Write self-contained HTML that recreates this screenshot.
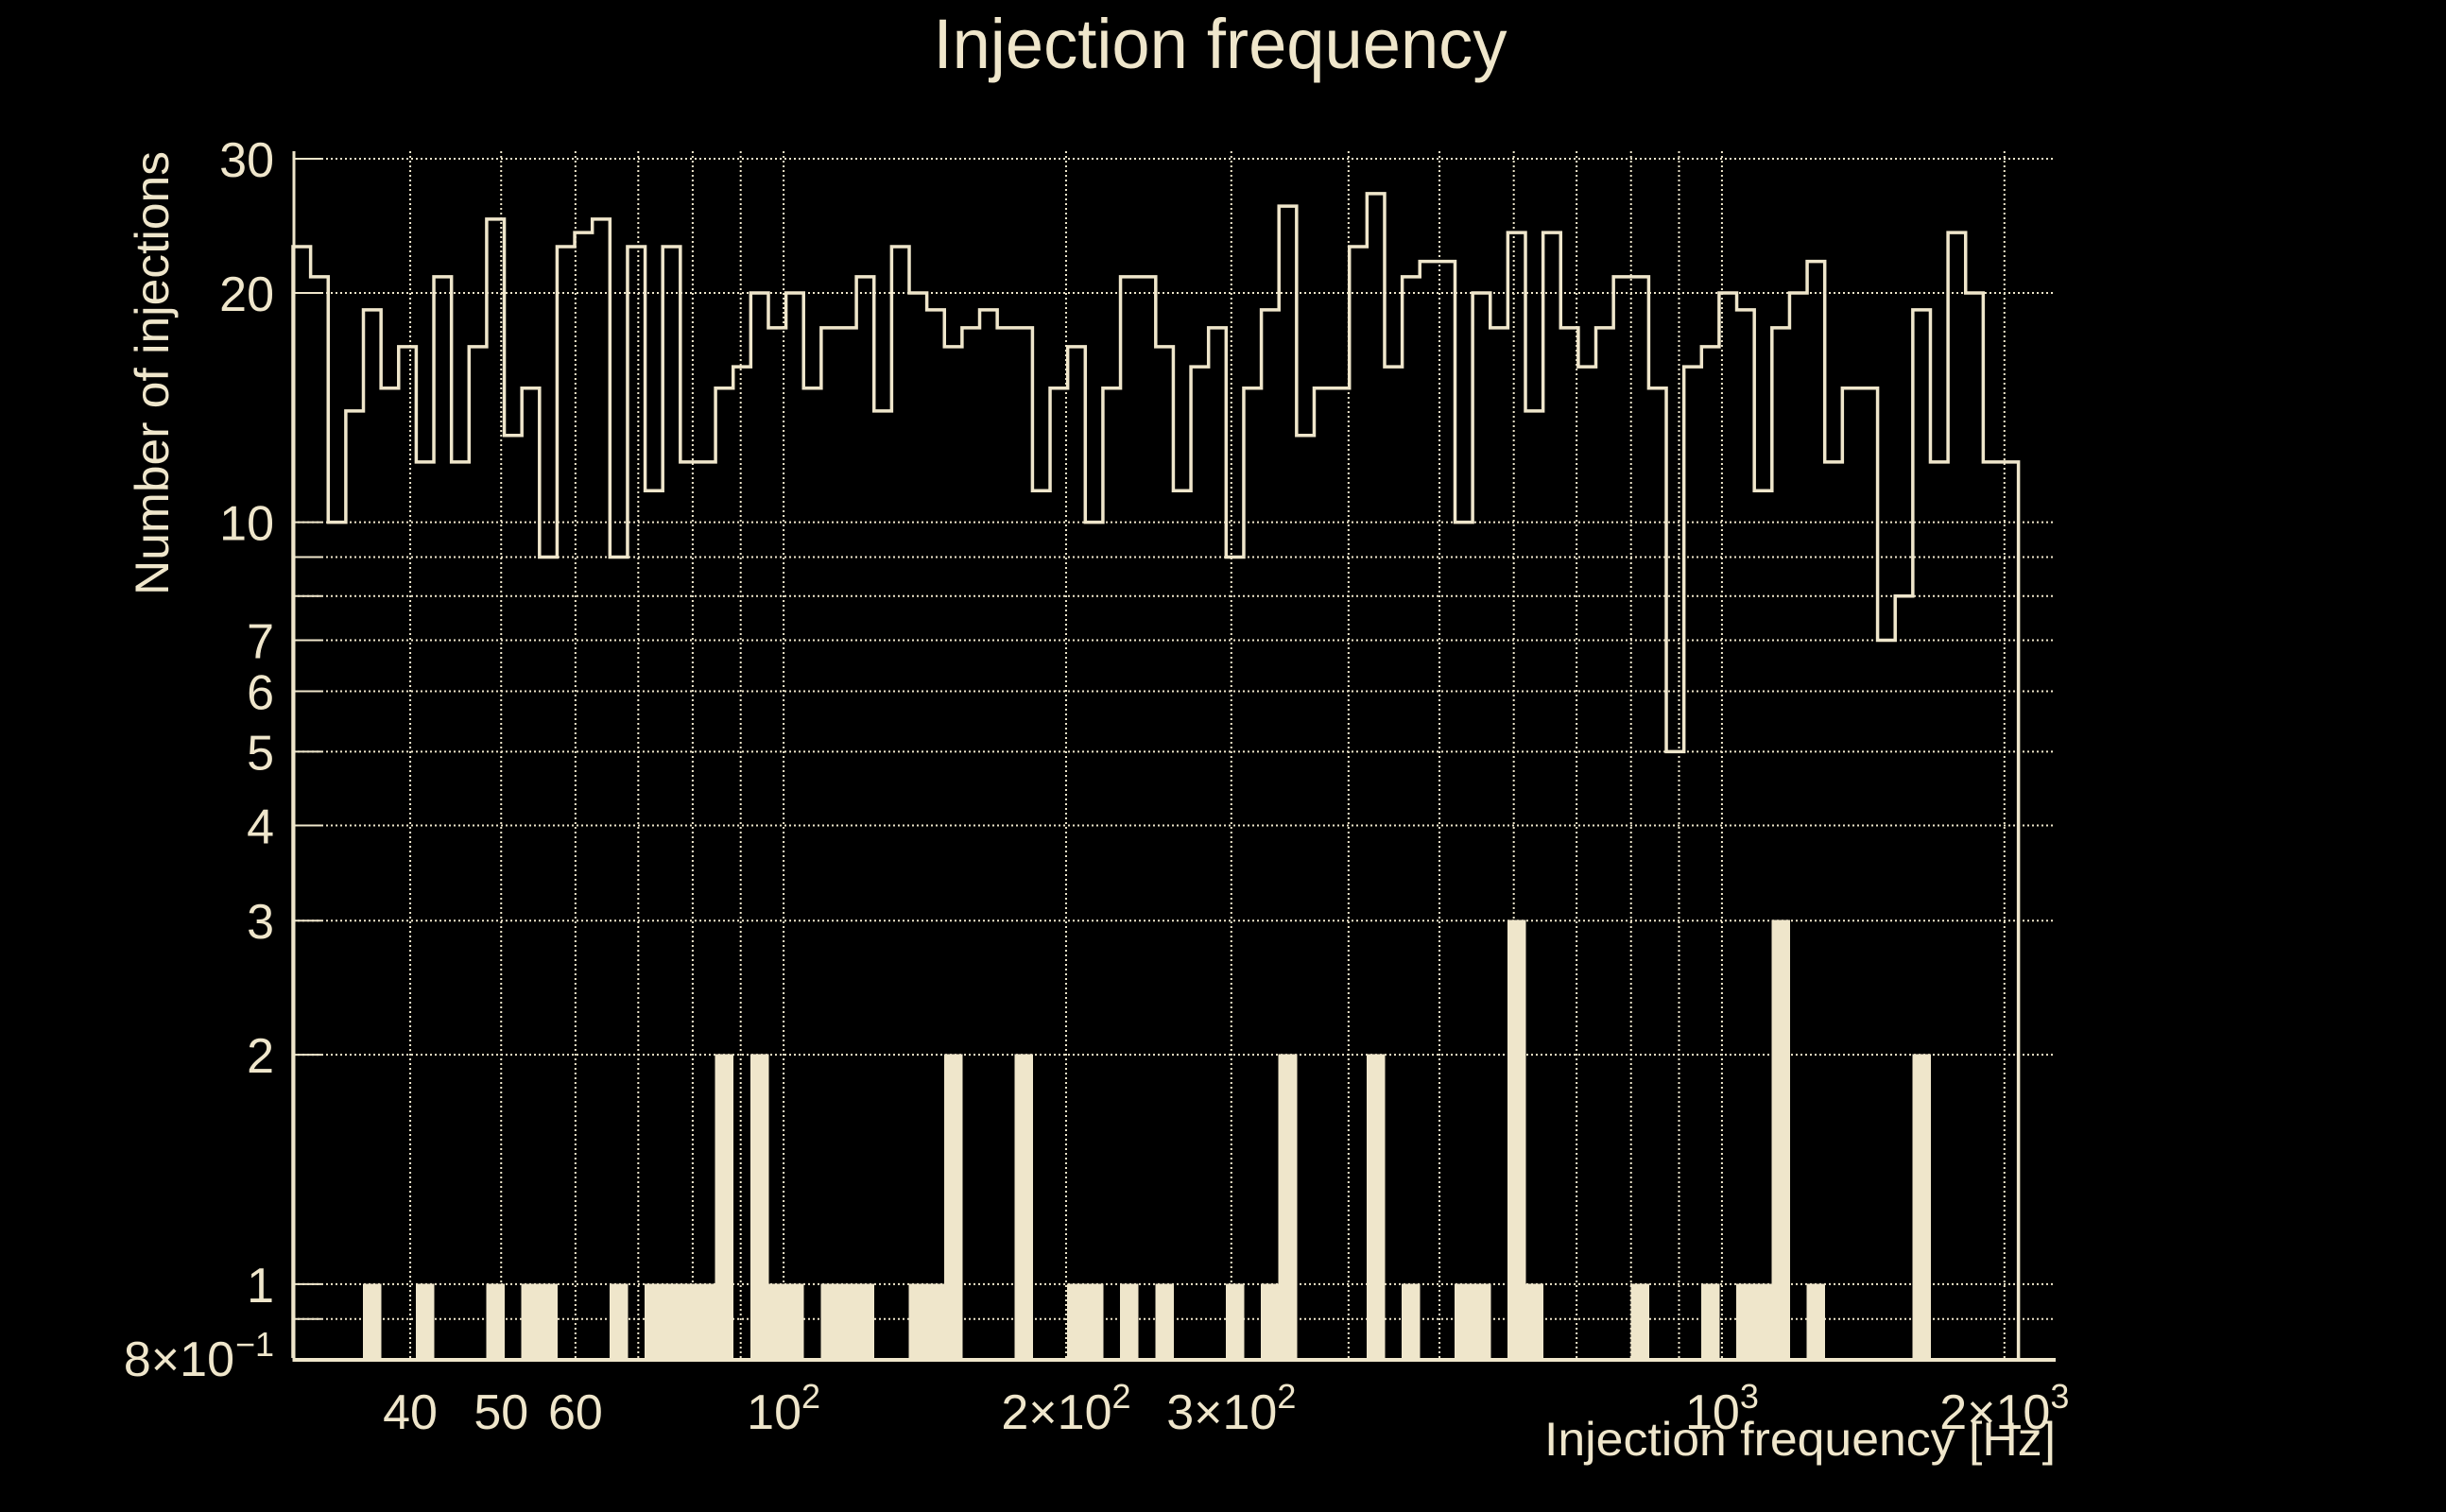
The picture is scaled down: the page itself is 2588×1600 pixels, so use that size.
<!DOCTYPE html>
<html>
<head>
<meta charset="utf-8">
<style>
  html, body { margin:0; padding:0; background:#000; }
  body { width:2588px; height:1600px; overflow:hidden; }
  svg { display:block; }
  text { font-family: "Liberation Sans", sans-serif; fill:#efe6cb; }
</style>
</head>
<body>
<svg id="chart" width="2588" height="1600" viewBox="0 0 2588 1600">
  <rect x="0" y="0" width="2588" height="1600" fill="#000"/>
  <g id="grid"></g>
  <g id="bars"></g>
  <g id="line"></g>
  <g id="axes"></g>
  <g id="labels"></g>
  <text x="1291" y="72" font-size="74" text-anchor="middle" textLength="607" lengthAdjust="spacingAndGlyphs">Injection frequency</text>
  <text x="0" y="0" font-size="50" text-anchor="middle" transform="translate(178,395) rotate(-90)" textLength="470" lengthAdjust="spacingAndGlyphs">Number of injections</text>
  <text x="2175" y="1540" font-size="50" text-anchor="end" textLength="541" lengthAdjust="spacingAndGlyphs">Injection frequency [Hz]</text>
</svg>
<script>
// ---- data ----
const binCount = 98;
const freqMin = 30;
const freqMax = 2070;
const allCounts = [23,21,10,14,19,15,17,12,21,12,17,25,13,15,9,23,24,25,9,23,11,23,12,12,15,16,
  20,18,20,15,18,18,21,14,23,20,19,17,18,19,18,18,11,15,17,10,15,21,21,17,
  11,16,18,9,15,19,26,13,15,15,23,27,16,21,22,22,10,20,18,24,14,24,18,16,18,
  21,21,15,5,16,17,20,19,11,18,20,22,12,15,15,7,8,19,12,24,20,12,12];
const foundCounts = [0,0,0,0,1,0,0,1,0,0,0,1,0,1,1,0,0,0,1,0,1,1,1,1,2,0,2,1,1,0,
  1,1,1,0,0,1,1,2,0,0,0,2,0,0,1,1,0,1,0,1,0,0,0,1,0,1,2,0,0,0,
  0,2,0,1,0,0,1,1,0,3,1,0,0,0,0,0,1,0,0,0,1,0,1,1,3,0,1,0,0,0,
  0,0,2,0,0,0,0,0];
const yTickValues = [0.8,1,2,3,4,5,6,7,10,20,30];
const yTickLabels = ["8\u00d710","1","2","3","4","5","6","7","10","20","30"];
const yGridValues = [0.9,1,2,3,4,5,6,7,8,9,10,20,30];
const xGridValues = [40,50,60,70,80,90,100,200,300,400,500,600,700,800,900,1000,2000];
const xTickValues = [40,50,60,100,200,300,1000,2000];
const xTickMantissa = ["40","50","60","","2\u00d7","3\u00d7","","2\u00d7"];
const xTickExponent = ["","","","2","2","2","3","3"];

// ---- axis functions ----
const X0 = 310, X1 = 2175, Y0 = 1437, Y1 = 168;
const xMin = 30, xMax = 2268, yMin = 0.8, yMax = 30;
function xs(f){ return X0 + (Math.log10(f) - Math.log10(xMin)) / (Math.log10(xMax) - Math.log10(xMin)) * (X1 - X0); }
function ys(v){ return Y0 - (Math.log10(v) - Math.log10(yMin)) / (Math.log10(yMax) - Math.log10(yMin)) * (Y0 - Y1); }
function edge(i){ return freqMin * Math.pow(freqMax / freqMin, i / binCount); }

const NS = "http://www.w3.org/2000/svg";
const C = "#efe6cb";
function mk(tag, attrs, parent){
  const el = document.createElementNS(NS, tag);
  for (const k in attrs) el.setAttribute(k, attrs[k]);
  parent.appendChild(el);
  return el;
}
const grid = document.getElementById('grid');
const bars = document.getElementById('bars');
const line = document.getElementById('line');
const axes = document.getElementById('axes');
const labels = document.getElementById('labels');

// grid
yGridValues.forEach(v => {
  const g = mk('line', {x1:X0, x2:X1, y1:ys(v), y2:ys(v), stroke:C, 'stroke-width':2, 'stroke-dasharray':'2 3'}, grid);
  
  
});
xGridValues.forEach(f => {
  const g = mk('line', {x1:xs(f), x2:xs(f), y1:160, y2:Y0, stroke:C, 'stroke-width':2, 'stroke-dasharray':'2 3'}, grid);
  
  
});

// filled bars
foundCounts.forEach((v, i) => {
  if (v <= 0) return;
  const xa = xs(edge(i)), xb = xs(edge(i + 1));
  const r = mk('rect', {x:xa, y:ys(v), width:xb - xa, height:Y0 - ys(v), fill:C, stroke:C, 'stroke-width':1, 'shape-rendering':'crispEdges'}, bars);
  
  
});

// step outline
let d = 'M' + xs(edge(0)) + ' ' + Y0;
allCounts.forEach((v, i) => {
  d += ' L' + xs(edge(i)) + ' ' + ys(v) + ' L' + xs(edge(i + 1)) + ' ' + ys(v);
});
d += ' L' + xs(edge(binCount)) + ' ' + Y0;
const p = mk('path', {d:d, fill:'none', stroke:C, 'stroke-width':3.5, 'stroke-linejoin':'miter'}, line);



// axes
const ax = mk('line', {x1:X0, x2:X1, y1:Y0 + 2, y2:Y0 + 2, stroke:C, 'stroke-width':4}, axes);


const ay = mk('line', {x1:X0 + 1, x2:X0 + 1, y1:160, y2:Y0 + 4, stroke:C, 'stroke-width':3}, axes);


yGridValues.forEach(v => {
  const t = mk('line', {x1:X0, x2:X0 + 30, y1:ys(v), y2:ys(v), stroke:C, 'stroke-width':2}, axes);
  
  
});

// y tick labels
yTickValues.forEach((v, i) => {
  const t = mk('text', {x:290, y:ys(v) + 19, 'font-size':52, 'text-anchor':'end'}, labels);
  
  
  if (v === 0.8) {
    t.setAttribute('x', 248);
    t.textContent = yTickLabels[i];
    const s = mk('text', {x:290, y:ys(v) - 2, 'font-size':36, 'text-anchor':'end'}, labels);
    
    
    s.textContent = '\u22121';
  } else {
    t.textContent = yTickLabels[i];
  }
});

// x tick labels
xTickValues.forEach((f, i) => {
  const t = mk('text', {x:xs(f), y:1512, 'font-size':52, 'text-anchor':'middle'}, labels);
  
  
  if (xTickExponent[i] === '') {
    t.textContent = xTickMantissa[i];
  } else {
    t.textContent = xTickMantissa[i] + '10';
    const ts = document.createElementNS(NS, 'tspan');
    ts.setAttribute('font-size', 36);
    ts.setAttribute('dy', -22);
    ts.textContent = xTickExponent[i];
    t.appendChild(ts);
  }
});
</script>
</body>
</html>
